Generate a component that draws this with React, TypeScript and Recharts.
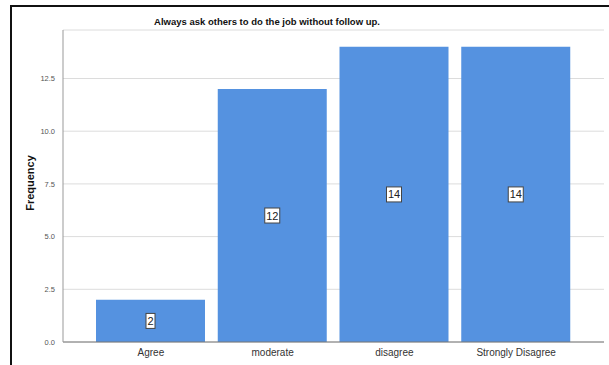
import { BarChart, Bar, XAxis, YAxis, CartesianGrid, LabelList, Label } from "recharts";

const categories = ["Agree", "moderate", "disagree", "Strongly Disagree"];
const frequency = [2, 12, 14, 14];
const yTicks = [0, 2.5, 5, 7.5, 10, 12.5];

const data = categories.map((c, i) => ({ name: c, value: frequency[i] }));

const font = "'Liberation Sans', Arial, sans-serif";

const BoxLabel = (props: any) => {
  const { x, y, width, height, value } = props;
  const cx = x + width / 2;
  const cy = y + height / 2;
  const s = String(value);
  const w = s.length * 6 + 3;
  const h = 15;
  return (
    <g>
      <rect x={cx - w / 2} y={cy - h / 2} width={w} height={h} fill="#fff" stroke="#444" strokeWidth={1} />
      <text x={cx} y={cy + 4} textAnchor="middle" fontSize={11} fill="#222" fontFamily={font}>
        {s}
      </text>
    </g>
  );
};

export default function App() {
  return (
    <div style={{ position: "fixed", left: 0, top: 0, width: 609, height: 365, background: "#fff", fontFamily: font }}>
      <div style={{ position: "absolute", left: 10, top: 5, width: 599, height: 2, background: "#111" }} />
      <div style={{ position: "absolute", left: 10, top: 5, width: 2, height: 360, background: "#111" }} />
      <div
        style={{
          position: "absolute",
          left: 0,
          width: 534,
          top: 16,
          textAlign: "center",
          fontSize: 9.5,
          fontWeight: "bold",
          color: "#111",
        }}
      >
        Always ask others to do the job without follow up.
      </div>
      <BarChart
        width={609}
        height={365}
        data={data}
        margin={{ top: 30, right: 5, bottom: 0, left: 0 }}
        barSize={109}
      >
        <CartesianGrid vertical={false} stroke="#dcdcdc" />
        <XAxis
          dataKey="name"
          height={23}
          stroke="#777"
          tickLine={false}
          tickSize={4}
          tickMargin={3}
          padding={{ left: 27, right: 27 }}
          tick={{ fontSize: 10, fill: "#333", fontFamily: font }}
        />
        <YAxis
          width={63}
          domain={[0, 14.8]}
          ticks={yTicks}
          tickFormatter={(v: number) => v.toFixed(1)}
          stroke="#999"
          tickLine={false}
          tickSize={6}
          tickMargin={2}
          tick={{ fontSize: 7.5, fill: "#555", fontFamily: font }}
        >
          <Label
            value="Frequency"
            angle={-90}
            position="center"
            dx={-1}
            dy={-3}
            style={{ fontSize: 11, fontWeight: "bold", fill: "#111", fontFamily: font }}
          />
        </YAxis>
        <Bar dataKey="value" fill="#5592e0" isAnimationActive={false}>
          <LabelList dataKey="value" content={BoxLabel} />
        </Bar>
      </BarChart>
    </div>
  );
}
